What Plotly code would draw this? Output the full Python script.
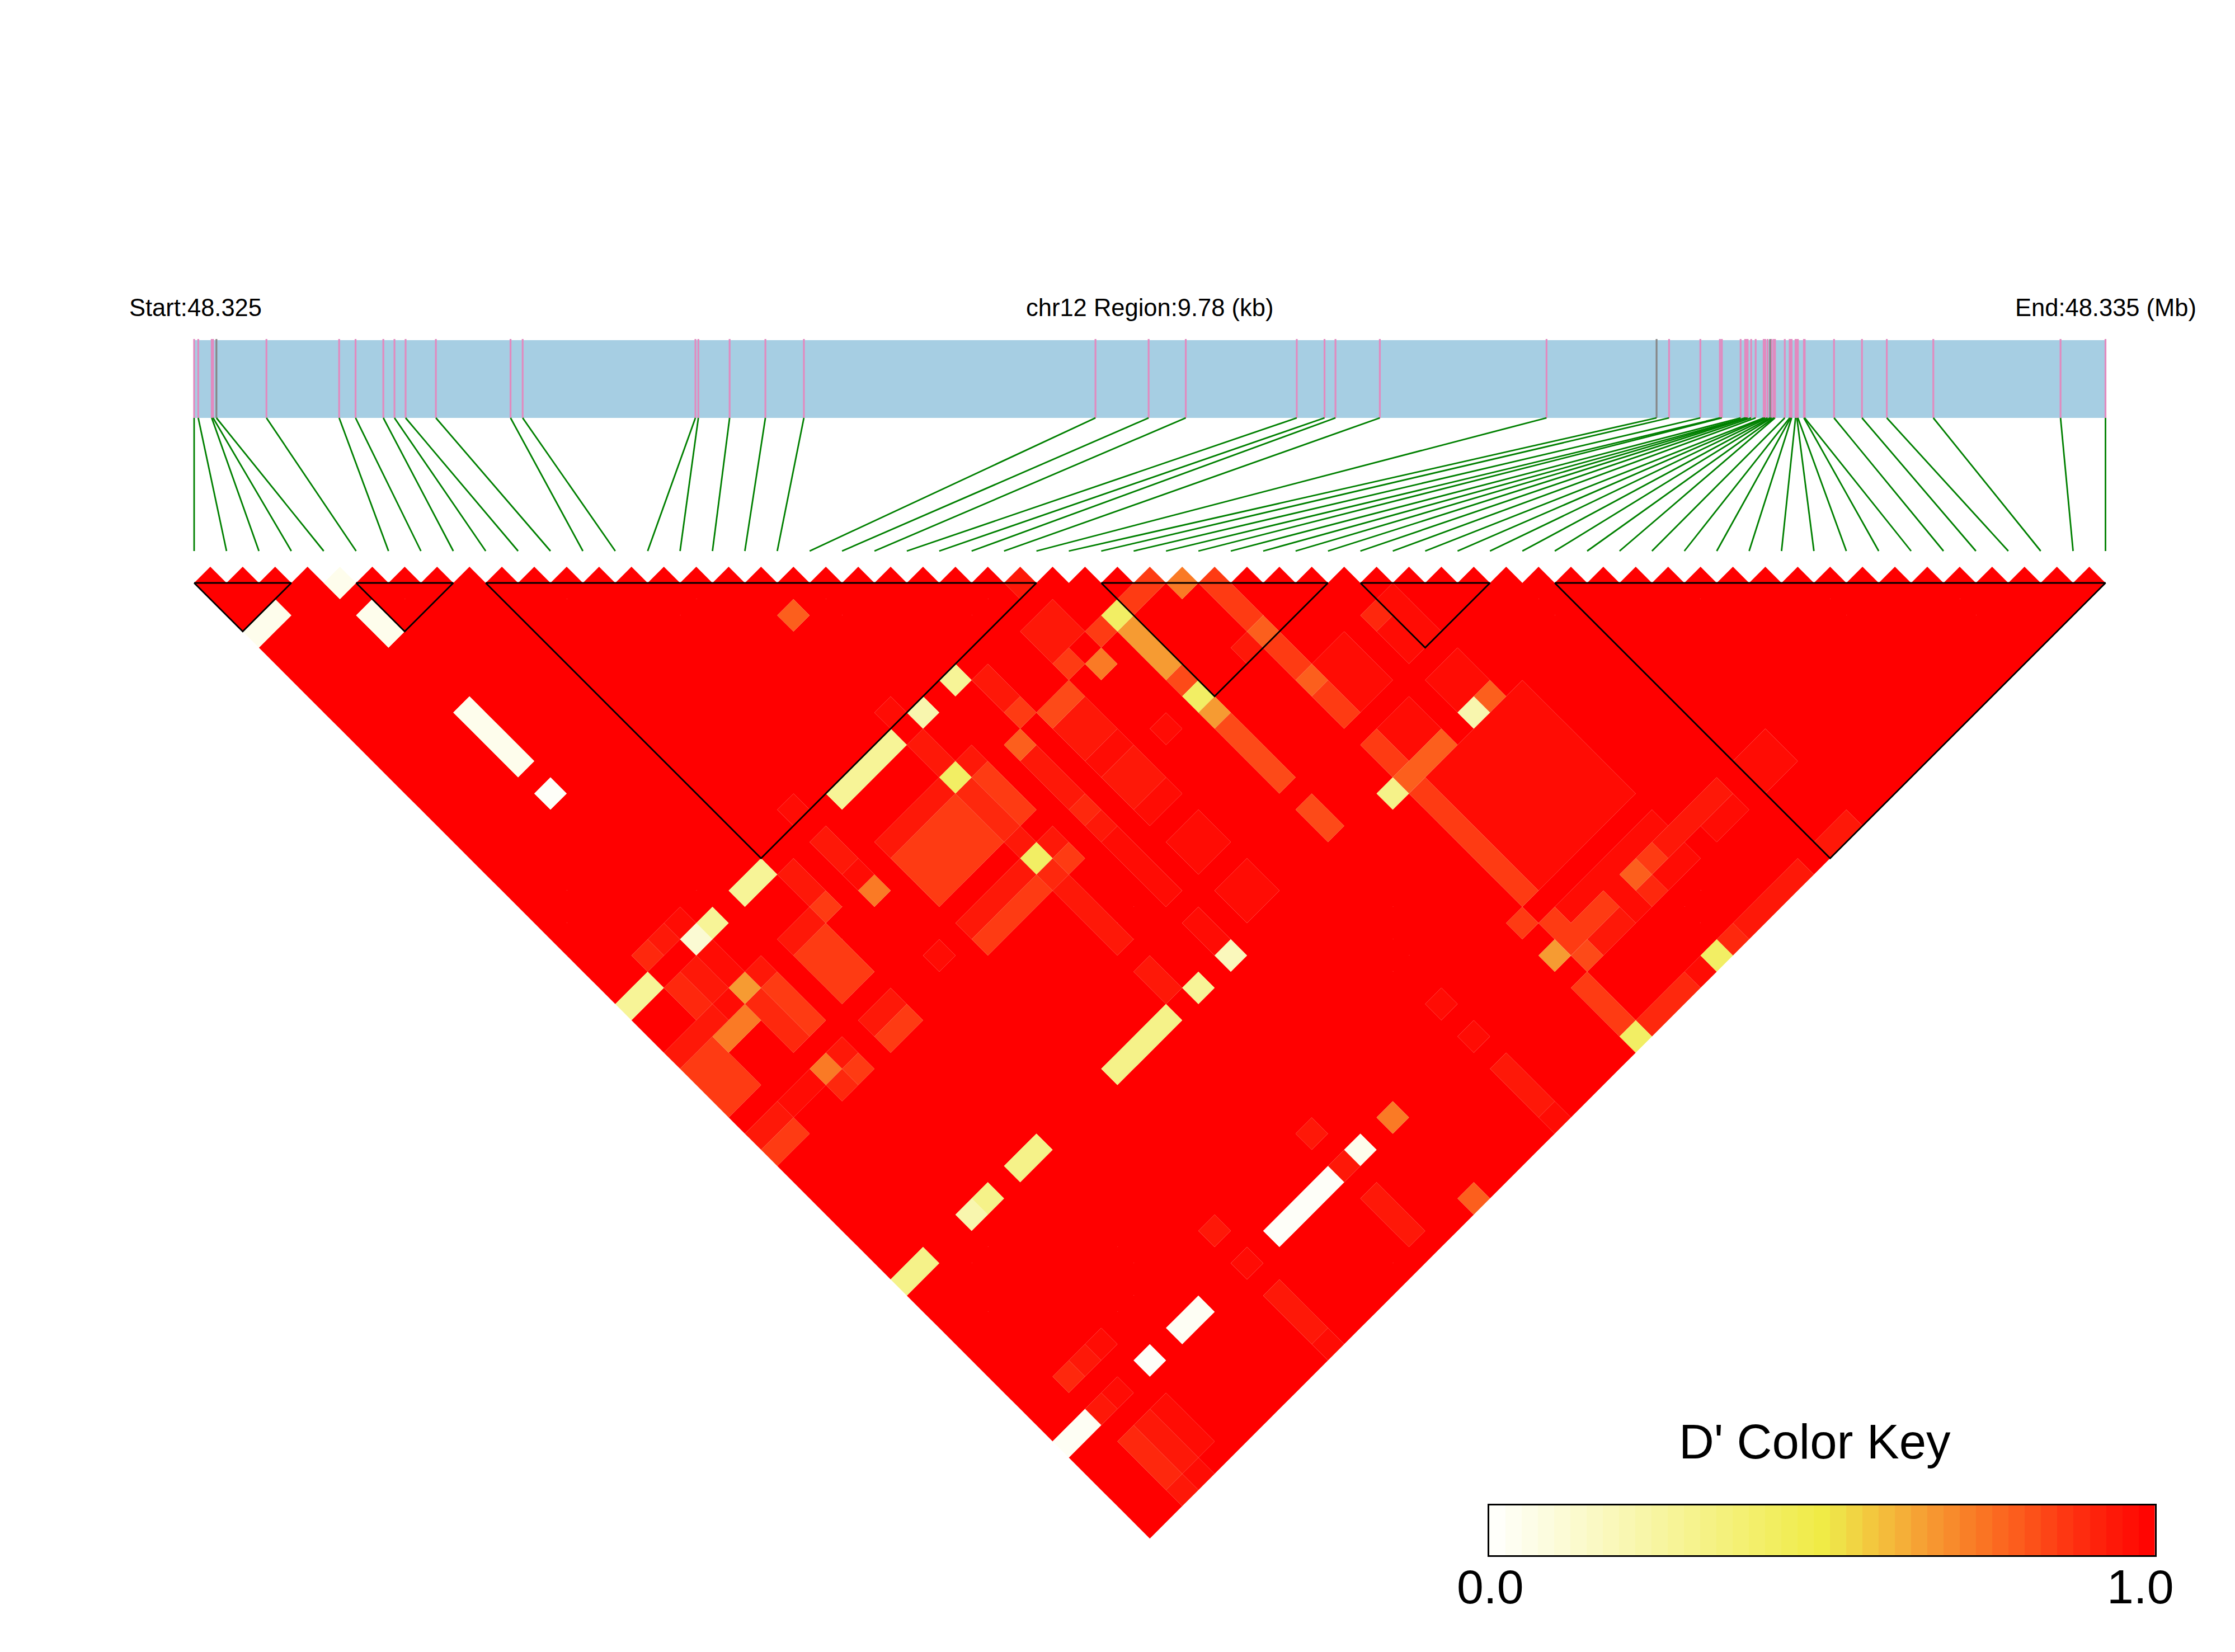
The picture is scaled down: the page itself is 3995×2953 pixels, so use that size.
"""
LD heatmap of a 9.78 kb region on chr12, D' values between 60 SNPs,
with haplotype blocks outlined and a colour key in the lower right corner.
"""
import numpy as np
import plotly.graph_objects as go

# SNP positions along the region, kb from the region start
snp_pos_kb = [
    0.000, 0.021, 0.090, 0.097, 0.114, 0.370, 0.742, 0.826, 0.968, 1.025,
    1.082, 1.237, 1.619, 1.681, 2.565, 2.580, 2.740, 2.923, 3.120, 4.612,
    4.884, 5.074, 5.642, 5.784, 5.840, 6.067, 6.920, 7.483, 7.547, 7.707,
    7.807, 7.817, 7.913, 7.936, 7.942, 7.949, 7.967, 7.990, 8.031, 8.039,
    8.051, 8.064, 8.072, 8.083, 8.089, 8.139, 8.164, 8.169, 8.174, 8.194,
    8.201, 8.206, 8.237, 8.241, 8.391, 8.534, 8.661, 8.899, 9.550, 9.780,
]
grey_snps = [4, 27, 41]
region_kb = 9.78

# haplotype blocks, first and last SNP
block_start = [0, 5, 9, 28, 36, 42]
block_end = [3, 8, 26, 35, 40, 59]

# pairs that are not D'=1, as (i_first, i_last, j_first, j_last)
dp_002 = [(4, 4, 18, 18), (13, 16, 54, 54), (5, 5, 54, 54)]
dp_003 = [(7, 8, 54, 54), (0, 1, 54, 54)]
dp_005 = [(0, 1, 4, 4), (4, 4, 5, 5), (4, 4, 7, 8), (4, 4, 13, 16), (18, 18, 54, 54)]
dp_012 = [(4, 4, 27, 27)]
dp_018 = [(20, 20, 44, 44)]
dp_022 = [(18, 18, 27, 27), (35, 35, 44, 44), (4, 4, 44, 44)]
dp_028 = [(13, 16, 27, 27), (7, 8, 27, 27), (0, 1, 27, 27), (5, 5, 27, 27),
          (18, 18, 44, 44), (20, 20, 27, 27)]
dp_032 = [(7, 8, 44, 44), (0, 1, 44, 44), (13, 16, 44, 44), (30, 30, 44, 44),
          (5, 5, 44, 44)]
dp_042 = [(27, 27, 30, 30), (27, 27, 35, 35), (17, 17, 30, 30), (17, 17, 35, 35),
          (30, 30, 59, 59), (35, 35, 59, 59)]
dp_066 = [(27, 27, 31, 33), (27, 27, 36, 36), (4, 4, 30, 30), (30, 30, 54, 54)]
dp_073 = [(25, 25, 31, 31), (11, 11, 31, 31), (2, 3, 31, 31), (4, 4, 35, 35),
          (30, 30, 31, 31), (20, 20, 54, 54)]
dp_079 = [(17, 17, 20, 20), (20, 20, 31, 31), (31, 31, 35, 35), (31, 31, 38, 38),
          (36, 36, 44, 44), (31, 33, 44, 44), (35, 35, 54, 54), (20, 20, 59, 59)]
dp_083 = [(27, 27, 37, 40), (22, 23, 31, 31), (27, 27, 42, 43), (27, 27, 34, 34),
          (31, 31, 55, 55)]
dp_086 = [(26, 26, 30, 30), (24, 24, 30, 30), (28, 29, 30, 30), (31, 31, 32, 34),
          (31, 31, 36, 37), (31, 31, 39, 40), (21, 21, 30, 30), (13, 16, 31, 33),
          (18, 18, 31, 33), (18, 18, 36, 36), (13, 16, 36, 36), (9, 9, 30, 30),
          (7, 8, 31, 33), (7, 8, 36, 36), (5, 5, 31, 33), (0, 1, 31, 33),
          (5, 5, 36, 36), (0, 1, 36, 36), (31, 31, 42, 43), (30, 30, 52, 52),
          (30, 30, 56, 58), (31, 31, 53, 54), (31, 33, 54, 54), (31, 31, 45, 51),
          (36, 36, 54, 54)]
dp_090 = [(17, 17, 31, 33), (20, 20, 35, 35), (17, 17, 36, 36), (2, 2, 26, 26),
          (2, 2, 28, 29), (4, 4, 31, 33), (4, 4, 36, 36), (35, 35, 38, 38),
          (35, 35, 55, 55), (2, 2, 52, 52), (2, 2, 56, 58), (31, 33, 59, 59),
          (36, 36, 59, 59)]
dp_094 = [(25, 25, 26, 26), (24, 25, 28, 29), (21, 21, 28, 29), (20, 20, 32, 34),
          (20, 20, 36, 36), (22, 23, 32, 33), (22, 23, 35, 35), (17, 17, 28, 29),
          (13, 16, 30, 30), (18, 18, 30, 30), (17, 17, 34, 34), (18, 18, 35, 35),
          (17, 17, 37, 40), (13, 16, 35, 35), (11, 11, 28, 29), (9, 9, 28, 29),
          (7, 8, 30, 30), (7, 8, 35, 35), (3, 3, 26, 26), (3, 3, 28, 29),
          (5, 5, 30, 30), (0, 2, 30, 30), (5, 5, 35, 35), (0, 1, 35, 35),
          (17, 17, 42, 43), (17, 17, 52, 52), (17, 17, 54, 54), (11, 11, 52, 52),
          (17, 17, 56, 58), (11, 11, 56, 58), (32, 33, 55, 55), (37, 40, 54, 54),
          (3, 3, 56, 58), (2, 2, 54, 54), (3, 3, 52, 52), (2, 2, 59, 59),
          (37, 40, 59, 59), (25, 25, 56, 58), (42, 43, 59, 59), (30, 30, 35, 35),
          (22, 23, 36, 36)]
dp_097 = [(22, 23, 34, 34), (22, 23, 37, 37), (25, 25, 35, 35), (20, 20, 37, 40),
          (17, 17, 26, 26), (11, 11, 26, 26), (11, 11, 30, 30), (11, 11, 35, 35),
          (4, 4, 26, 26), (4, 4, 28, 29), (3, 3, 30, 30), (2, 3, 35, 35),
          (34, 34, 54, 55), (36, 37, 55, 55), (34, 34, 59, 59), (32, 33, 38, 40),
          (35, 35, 39, 40), (36, 36, 38, 40), (35, 36, 42, 43), (32, 33, 42, 43),
          (22, 23, 39, 40), (22, 23, 42, 43), (20, 20, 42, 43), (32, 37, 45, 51),
          (32, 37, 53, 53), (39, 40, 55, 55), (42, 43, 54, 55), (25, 25, 52, 52),
          (25, 25, 54, 54), (25, 25, 59, 59), (11, 11, 54, 54), (11, 11, 59, 59),
          (3, 3, 54, 54), (4, 4, 52, 52), (4, 4, 56, 58), (3, 3, 59, 59)]

# colour key
key_colors = [
    [0.00, "#FFFFFF"], [0.50, "#F0EB46"], [0.53, "#EFDF48"], [0.56, "#F2CF40"],
    [0.65, "#F6A034"], [0.73, "#FA7A25"], [0.80, "#FC5A1C"], [0.88, "#FE3010"],
    [1.00, "#FF0000"],
]
key_levels = 41

# page geometry, px. The browser keeps an 8 px margin round the figure
page_w, page_h = 3995, 2953
page_margin = 8
fig_w, fig_h = page_w - 2 * page_margin, page_h - 2 * page_margin
left_px, right_px = 347.0, 3763.5
base_px = 1042.0
n_snps = len(snp_pos_kb)
cell_px = (right_px - left_px) / (n_snps - 1)


def to_rgb(hex_code):
    return [int(hex_code[k:k + 2], 16) for k in (1, 3, 5)]


def dprime_color(value):
    stops = [c[0] for c in key_colors]
    rgb = [to_rgb(c[1]) for c in key_colors]
    chan = [np.interp(value, stops, [r[k] for r in rgb]) for k in range(3)]
    return "rgb({:.0f},{:.0f},{:.0f})".format(*chan)


def px_x(px):
    return (px - left_px) / cell_px


def px_y(px):
    return (px - base_px) / cell_px


def paper_x(px):
    return (px - page_margin) / fig_w


def paper_y(px):
    return 1 - (px - page_margin) / fig_h


def text_note(text, x_px, y_px, size, anchor="center"):
    return dict(text=text, x=paper_x(x_px), y=paper_y(y_px), xref="paper",
                yref="paper", showarrow=False, xanchor=anchor, yanchor="middle",
                borderpad=0, font=dict(family="Liberation Sans", size=size, color="black"))


# the whole triangle starts at 1.0 and the read patches overwrite it
dprime = {(i, j): 1.0 for i in range(n_snps) for j in range(i + 1, n_snps)}
groups = {0.02: dp_002, 0.03: dp_003, 0.05: dp_005, 0.12: dp_012, 0.18: dp_018,
          0.22: dp_022, 0.28: dp_028, 0.32: dp_032, 0.42: dp_042, 0.66: dp_066,
          0.73: dp_073, 0.79: dp_079, 0.83: dp_083, 0.86: dp_086, 0.90: dp_090,
          0.94: dp_094, 0.97: dp_097}
for value, patches in groups.items():
    for i_lo, i_hi, j_lo, j_hi in patches:
        for i in range(i_lo, i_hi + 1):
            for j in range(j_lo, j_hi + 1):
                dprime[(i, j)] = value

fig = go.Figure()

# gene bar
fig.add_shape(type="rect", xref="x", yref="y", layer="below", line_width=0,
              fillcolor="#A6CEE3", x0=0, x1=n_snps - 1,
              y0=px_y(608), y1=px_y(747))

# SNP ticks in the bar, then the green connectors down to the heatmap
snp_x = [p / region_kb * (n_snps - 1) for p in snp_pos_kb]
for color, idx in (("#E28ABF", [k for k in range(n_snps) if k not in grey_snps]),
                   ("#868686", grey_snps)):
    xs, ys = [], []
    for k in idx:
        xs += [snp_x[k], snp_x[k], None]
        ys += [px_y(606), px_y(747), None]
    fig.add_trace(go.Scatter(x=xs, y=ys, mode="lines", hoverinfo="skip",
                             line=dict(color=color, width=3.2)))

xs, ys = [], []
for k in range(n_snps):
    xs += [snp_x[k], k, None]
    ys += [px_y(747), px_y(985), None]
fig.add_trace(go.Scatter(x=xs, y=ys, mode="lines", hoverinfo="skip",
                         line=dict(color="#008000", width=2.8)))

# heatmap diamonds, one trace per D' level, red first
for value in sorted(set(dprime.values()), reverse=True):
    xs, ys = [], []
    for (i, j), v in dprime.items():
        if v != value:
            continue
        cx, cy = (i + j) / 2, (j - i - 1) / 2
        xs += [cx - 0.5, cx, cx + 0.5, cx, cx - 0.5, None]
        ys += [cy, cy - 0.5, cy, cy + 0.5, cy, None]
    fig.add_trace(go.Scatter(x=xs, y=ys, mode="none", fill="toself", hoverinfo="skip",
                             fillcolor=dprime_color(value), line=dict(simplify=False)))

# block outlines
for a, b in zip(block_start, block_end):
    fig.add_trace(go.Scatter(x=[a, b, (a + b) / 2, a], y=[0, 0, (b - a) / 2, 0],
                             mode="lines", hoverinfo="skip",
                             line=dict(color="black", width=2.8)))

# colour key on its own axes
key_x = [(k + 0.5) / key_levels for k in range(key_levels)]
fig.add_trace(go.Heatmap(z=[key_x], x=key_x, y=[0.5], xaxis="x2", yaxis="y2",
                         colorscale=key_colors, zmin=0, zmax=1, showscale=False,
                         hoverinfo="skip"))

fig.update_layout(
    width=fig_w, height=fig_h, margin=dict(l=0, r=0, t=0, b=0),
    paper_bgcolor="white", plot_bgcolor="white", showlegend=False,
    xaxis=dict(range=[px_x(page_margin), px_x(page_w - page_margin)], visible=False,
               domain=[0, 1]),
    yaxis=dict(range=[px_y(page_h - page_margin), px_y(page_margin)], visible=False,
               domain=[0, 1]),
    xaxis2=dict(domain=[paper_x(2661.6), paper_x(3852.0)], range=[0, 1], anchor="y2",
                showline=True, mirror=True, linecolor="black", linewidth=3,
                showticklabels=False, ticks="", showgrid=False, zeroline=False),
    yaxis2=dict(domain=[paper_y(2780.0), paper_y(2691.0)], range=[0, 1],
                anchor="x2", showline=True, mirror=True, linecolor="black", linewidth=3,
                showticklabels=False, ticks="", showgrid=False, zeroline=False),
    annotations=[
        text_note("Start:48.325", 230, 550, 43.5, "left"),
        text_note("chr12 Region:9.78 (kb)", 2055, 550, 43.5),
        text_note("End:48.335 (Mb)", 3927, 550, 43.5, "right"),
        text_note("D' Color Key", 3244, 2576, 87),
        text_note("0.0", 2664, 2836, 86),
        text_note("1.0", 3826, 2836, 86),
    ],
)

fig.write_html("out.html")
